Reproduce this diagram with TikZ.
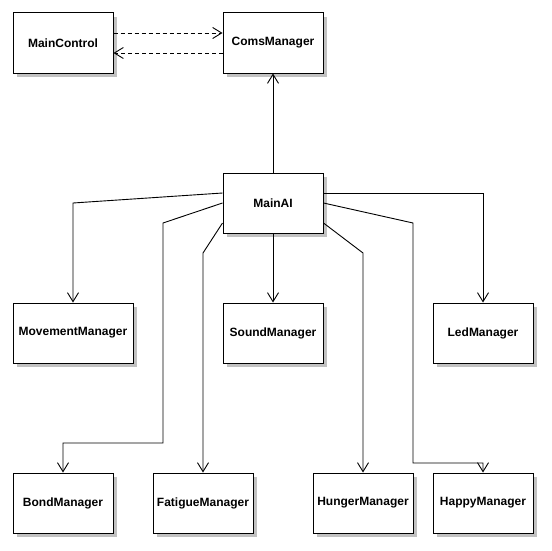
\documentclass[tikz,border=0pt]{standalone}
\usepackage{fontspec}
\setmainfont{Liberation Sans}
\usetikzlibrary{arrows.meta,calc}
\begin{document}
\begin{tikzpicture}[x=1pt,y=-1pt,
  cls/.style={draw=black, line width=1pt, fill=white, rectangle,
    minimum width=100pt, minimum height=60pt, inner sep=0pt,
    font=\fontsize{12}{14}\selectfont\bfseries},
  wide/.style={minimum width=120pt},
  boxshadow/.style={fill=black!24, draw=none},
  assoc/.style={draw=black, line width=0.9pt, -{Straight Barb[length=9pt,width=11pt]}},
  dep/.style={assoc, dash pattern=on 4pt off 3pt}]
\useasboundingbox (0,0) rectangle (551,551);

% page background
\fill[white] (0,0) rectangle (551,551);

% drop shadows (centre x / centre y / width), drawn before the boxes
\foreach \cx/\cy/\w in {63/43/100,273/43/100,273/203/100,73/333/120,273/333/100,483/333/100,63/503/100,203/503/100,363/503/100,483/503/100}
  \fill[boxshadow] (\cx-\w/2+4,\cy-26) rectangle (\cx+\w/2+4,\cy+34);

% class boxes
\node[cls] (mainctrl) at (63,43) {MainControl};
\node[cls] (coms) at (273,43) {ComsManager};
\node[cls] (mainai) at (273,203) {MainAI};
\node[cls, wide] (movement) at (73,333) {MovementManager};
\node[cls] (sound) at (273,333) {SoundManager};
\node[cls] (led) at (483,333) {LedManager};
\node[cls] (bond) at (63,503) {BondManager};
\node[cls] (fatigue) at (203,503) {FatigueManager};
\node[cls] (hunger) at (363,503) {HungerManager};
\node[cls] (happy) at (483,503) {HappyManager};

% dependencies between controller and communications
\draw[dep] ($(mainctrl.east)+(0pt,10pt)$) -- ($(coms.west)+(0pt,10pt)$);
\draw[dep] ($(coms.west)+(0pt,-10pt)$) -- ($(mainctrl.east)+(0pt,-10pt)$);

% associations from the AI core
\draw[assoc] (mainai.north) -- (coms.south);
\draw[assoc] (mainai.south) -- (sound.north);
\draw[assoc] ($(mainai.west)+(0pt,10pt)$) -- (73,203) -- (movement.north);
\draw[assoc] (mainai.west) -- (163,223) -- (163,443) -- (63,443) -- (bond.north);
\draw[assoc] ($(mainai.west)+(0pt,-20pt)$) -- (203,253) -- (fatigue.north);
\draw[assoc] ($(mainai.east)+(0pt,10pt)$) -- (483,193) -- (led.north);
\draw[assoc] (mainai.east) -- (413,223) -- (413,463) -- (483,463) -- (happy.north);
\draw[assoc] ($(mainai.east)+(0pt,-20pt)$) -- (363,253) -- (hunger.north);
\end{tikzpicture}
\end{document}
